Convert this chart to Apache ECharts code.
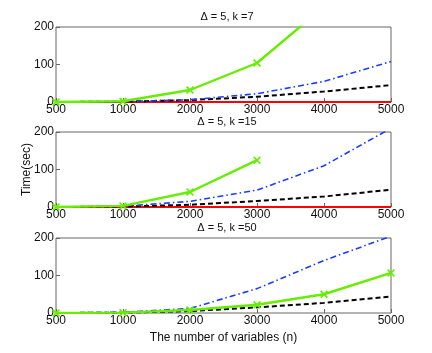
<!DOCTYPE html>
<html><head><meta charset="utf-8">
<script src="https://cdn.jsdelivr.net/npm/echarts@6/dist/echarts.min.js"></script>
<style>html,body{margin:0;padding:0;background:#fff}#c{width:432px;height:353px}</style>
</head><body><div id="c"></div>
<script>
const categories = ['500','1000','2000','3000','4000','5000'];
const titles = ['\u0394 = 5, k =7', '\u0394 = 5, k =15', '\u0394 = 5, k =50'];
// panel 1 (k=7)
const green1 = [0, 2, 32, 104, 254];
const blue1  = [0, 1, 6, 22, 55, 108];
const black1 = [0, 1, 5, 14, 28, 45];
const red1   = [0, 0, 0, 0, 0, 0];
// panel 2 (k=15)
const green2 = [0, 3, 40, 125];
const blue2  = [0, 2, 15, 45, 110, 210];
const black2 = [0, 1, 6, 16, 28, 46];
const red2   = [0, 0, 0, 0, 0, 0];
// panel 3 (k=50)
const green3 = [0, 1, 8, 22, 50, 107];
const blue3  = [0, 2, 12, 65, 140, 205];
const black3 = [0, 1, 5, 15, 27, 44];

const panels = [
  {green: green1, blue: blue1, black: black1, red: red1},
  {green: green2, blue: blue2, black: black2, red: red2},
  {green: green3, blue: blue3, black: black3, red: null}
];
const tops = [27, 132, 238];
const H = 75;
const font = 'Liberation Sans, Arial, sans-serif';
const crossPath = 'path://M0,1.5L1.5,0L5,3.5L8.5,0L10,1.5L6.5,5L10,8.5L8.5,10L5,6.5L1.5,10L0,8.5L3.5,5Z';

const grid = [], xAxis = [], yAxis = [], series = [], title = [];
panels.forEach((p, i) => {
  grid.push({left: 56, width: 335, top: tops[i], height: H, show: true, borderColor: '#666', borderWidth: 1, backgroundColor: '#fff'});
  title.push({text: titles[i], left: 222, textAlign: 'center', top: tops[i] - 21,
    textStyle: {fontFamily: font, fontSize: 11, fontWeight: 'normal', color: '#111'}});
  xAxis.push({type: 'category', gridIndex: i, data: categories, boundaryGap: false,
    axisLine: {show: false}, axisTick: {show: true, inside: true, length: 4, lineStyle: {color: '#666'}},
    axisLabel: {fontFamily: font, fontSize: 12, color: '#111', margin: 2, showMinLabel: true, showMaxLabel: true, interval: 0},
    splitLine: {show: false},
    name: i === 2 ? 'The number of variables (n)' : '', nameLocation: 'middle', nameGap: 19,
    nameTextStyle: {fontFamily: font, fontSize: 12, color: '#111'}});
  yAxis.push({type: 'value', gridIndex: i, min: 0, max: 200, interval: 100,
    axisLine: {show: false}, axisTick: {show: true, inside: true, length: 4, lineStyle: {color: '#666'}},
    axisLabel: {fontFamily: font, fontSize: 12, color: '#111', margin: 2},
    splitLine: {show: false},
    name: i === 1 ? 'Time(sec)' : '', nameLocation: 'middle', nameGap: 23, nameRotate: 90, nameMoveOverlap: false,
    nameTextStyle: {fontFamily: font, fontSize: 12, color: '#111'}});
  if (p.red) series.push({type: 'line', xAxisIndex: i, yAxisIndex: i, data: p.red, symbol: 'none',
    lineStyle: {color: '#ff0000', width: 2}, z: 2});
  series.push({type: 'line', xAxisIndex: i, yAxisIndex: i, data: p.black, symbol: 'none',
    lineStyle: {color: '#000', width: 2, type: [5, 3]}, z: 3});
  series.push({type: 'line', xAxisIndex: i, yAxisIndex: i, data: p.blue, symbol: 'none',
    lineStyle: {color: '#1a3cff', width: 1.6, type: [6, 3, 1.5, 3]}, z: 4});
  series.push({type: 'line', xAxisIndex: i, yAxisIndex: i, data: p.green, symbol: crossPath, symbolSize: 8,
    itemStyle: {color: '#66ee00'}, lineStyle: {color: '#66ee00', width: 2.4}, z: 5, clip: true});
});

const chart = echarts.init(document.getElementById('c'), null, {renderer: 'canvas'});
chart.setOption({animation: false, backgroundColor: '#fff', title, grid, xAxis, yAxis, series});
</script></body></html>
